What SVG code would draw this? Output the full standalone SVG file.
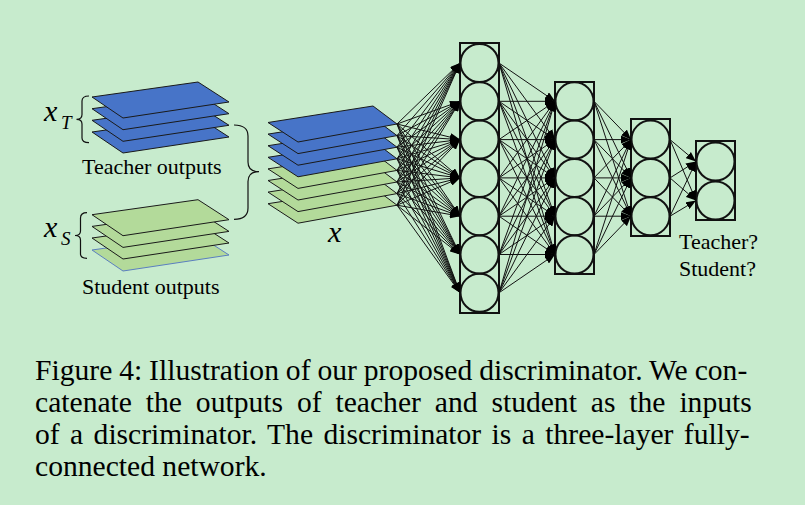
<svg xmlns="http://www.w3.org/2000/svg" xmlns:xlink="http://www.w3.org/1999/xlink" width="805" height="505" viewBox="0 0 805 505">
<style>
.bg{fill:#c7ebcd}
.blue{fill:#4774c8;stroke:#1a1a1a;stroke-width:1}
.green{fill:#b3da9a;stroke:#1a1a1a;stroke-width:1}
.greenlast{fill:#b3da9a;stroke:#5b7fc0;stroke-width:1}
.box{fill:none;stroke:#111;stroke-width:2}
.nd{fill:none;stroke:#111;stroke-width:2}
.c{stroke:#111;stroke-width:1;marker-end:url(#ah)}
.br{fill:none;stroke:#111;stroke-width:1.2}
.lbl{font-family:"Liberation Serif","Times New Roman",serif;font-size:22px;fill:#000}
.mx{font-family:"Liberation Serif","Times New Roman",serif;font-style:italic;fill:#000}
.cap{font-family:"Liberation Serif","Times New Roman",serif;font-size:29.6px;fill:#000}
</style>
<defs>
<marker id="ah" viewBox="0 0 10 8" refX="10" refY="4" markerWidth="10" markerHeight="8" markerUnits="userSpaceOnUse" orient="auto"><path d="M0,0 L10,4 L0,8 z" fill="#000"/></marker>
<polygon id="pl" points="92,97 198,82 229,102 123,118"/>
<polygon id="pm" points="268,122.5 373,106 397,124 298,142"/>
</defs>
<rect class="bg" x="0" y="0" width="805" height="505"/>

<g id="teacher-stack">
<use xlink:href="#pl" class="blue" y="35"/>
<use xlink:href="#pl" class="blue" y="23.3"/>
<use xlink:href="#pl" class="blue" y="11.7"/>
<use xlink:href="#pl" class="blue" y="0"/>
</g>
<g id="student-stack">
<use xlink:href="#pl" class="greenlast" y="153"/>
<use xlink:href="#pl" class="green" y="141"/>
<use xlink:href="#pl" class="green" y="129.4"/>
<use xlink:href="#pl" class="green" y="117.7"/>
</g>
<g id="braces">
<path class="br" d="M89,96 C84,96 82,97.5 82,101 L82,114.5 C82,117.5 80,119.3 76.5,119.3 C80,119.3 82,121 82,124 L82,138 C82,141 84,142.7 89,142.7"/>
<path class="br" d="M87,212.7 C82,212.7 80.5,214.5 80.5,218 L80.5,231 C80.5,234 79,235.5 75,235.5 C79,235.5 80.5,237 80.5,240 L80.5,254 C80.5,257 82,258.3 87,258.3"/>
<path class="br" d="M234,125 C243,125 248,128 248,136 L248,162 C248,168.5 252,171.7 259,171.7 C252,171.7 248,175 248,181.5 L248,208 C248,216 243,219.3 234,219.3"/>
</g>
<g id="labels">
<text class="mx" x="44" y="121" font-size="30">x</text>
<text class="mx" x="61" y="129" font-size="19">T</text>
<text class="mx" x="44" y="237" font-size="30">x</text>
<text class="mx" x="61" y="245" font-size="19">S</text>
<text class="lbl" x="82" y="174">Teacher outputs</text>
<text class="lbl" x="82" y="294">Student outputs</text>
<text class="mx" x="328" y="242" font-size="30">x</text>
<text class="lbl" x="679" y="249">Teacher?</text>
<text class="lbl" x="679" y="276">Student?</text>
</g>
<g id="input-stack">
<use xlink:href="#pm" class="green" y="81.2"/>
<use xlink:href="#pm" class="green" y="69.6"/>
<use xlink:href="#pm" class="green" y="58"/>
<use xlink:href="#pm" class="green" y="46.4"/>
<use xlink:href="#pm" class="blue" y="34.8"/>
<use xlink:href="#pm" class="blue" y="23.2"/>
<use xlink:href="#pm" class="blue" y="11.6"/>
<use xlink:href="#pm" class="blue" y="0"/>
</g>
<g id="layer1">
<rect class="box" x="460" y="43" width="39" height="270"/>
<circle class="nd" cx="479.5" cy="63" r="19"/>
<circle class="nd" cx="479.5" cy="101.3" r="19"/>
<circle class="nd" cx="479.5" cy="139.6" r="19"/>
<circle class="nd" cx="479.5" cy="177.9" r="19"/>
<circle class="nd" cx="479.5" cy="216.2" r="19"/>
<circle class="nd" cx="479.5" cy="254.5" r="19"/>
<circle class="nd" cx="479.5" cy="292.8" r="19"/>
</g>
<g id="layer2">
<rect class="box" x="555" y="82" width="39" height="192"/>
<circle class="nd" cx="574.5" cy="101.3" r="19"/>
<circle class="nd" cx="574.5" cy="139.6" r="19"/>
<circle class="nd" cx="574.5" cy="177.9" r="19"/>
<circle class="nd" cx="574.5" cy="216.2" r="19"/>
<circle class="nd" cx="574.5" cy="254.5" r="19"/>
</g>
<g id="layer3">
<rect class="box" x="631" y="119" width="39" height="117"/>
<circle class="nd" cx="650.5" cy="139.6" r="19"/>
<circle class="nd" cx="650.5" cy="177.9" r="19"/>
<circle class="nd" cx="650.5" cy="216.2" r="19"/>
</g>
<g id="layer4">
<rect class="box" x="696" y="141" width="39" height="79"/>
<circle class="nd" cx="715.5" cy="161.5" r="19"/>
<circle class="nd" cx="715.5" cy="200.5" r="19"/>
</g>
<g id="connectors">
<line class="c" x1="397" y1="124" x2="460" y2="63"/><line class="c" x1="397" y1="124" x2="460" y2="101.3"/><line class="c" x1="397" y1="124" x2="460" y2="139.6"/><line class="c" x1="397" y1="124" x2="460" y2="177.9"/><line class="c" x1="397" y1="124" x2="460" y2="216.2"/><line class="c" x1="397" y1="124" x2="460" y2="254.5"/><line class="c" x1="397" y1="124" x2="460" y2="292.8"/>
<line class="c" x1="397" y1="135.6" x2="460" y2="63"/><line class="c" x1="397" y1="135.6" x2="460" y2="101.3"/><line class="c" x1="397" y1="135.6" x2="460" y2="139.6"/><line class="c" x1="397" y1="135.6" x2="460" y2="177.9"/><line class="c" x1="397" y1="135.6" x2="460" y2="216.2"/><line class="c" x1="397" y1="135.6" x2="460" y2="254.5"/><line class="c" x1="397" y1="135.6" x2="460" y2="292.8"/>
<line class="c" x1="397" y1="147.2" x2="460" y2="63"/><line class="c" x1="397" y1="147.2" x2="460" y2="101.3"/><line class="c" x1="397" y1="147.2" x2="460" y2="139.6"/><line class="c" x1="397" y1="147.2" x2="460" y2="177.9"/><line class="c" x1="397" y1="147.2" x2="460" y2="216.2"/><line class="c" x1="397" y1="147.2" x2="460" y2="254.5"/><line class="c" x1="397" y1="147.2" x2="460" y2="292.8"/>
<line class="c" x1="397" y1="158.8" x2="460" y2="63"/><line class="c" x1="397" y1="158.8" x2="460" y2="101.3"/><line class="c" x1="397" y1="158.8" x2="460" y2="139.6"/><line class="c" x1="397" y1="158.8" x2="460" y2="177.9"/><line class="c" x1="397" y1="158.8" x2="460" y2="216.2"/><line class="c" x1="397" y1="158.8" x2="460" y2="254.5"/><line class="c" x1="397" y1="158.8" x2="460" y2="292.8"/>
<line class="c" x1="397" y1="170.4" x2="460" y2="63"/><line class="c" x1="397" y1="170.4" x2="460" y2="101.3"/><line class="c" x1="397" y1="170.4" x2="460" y2="139.6"/><line class="c" x1="397" y1="170.4" x2="460" y2="177.9"/><line class="c" x1="397" y1="170.4" x2="460" y2="216.2"/><line class="c" x1="397" y1="170.4" x2="460" y2="254.5"/><line class="c" x1="397" y1="170.4" x2="460" y2="292.8"/>
<line class="c" x1="397" y1="182" x2="460" y2="63"/><line class="c" x1="397" y1="182" x2="460" y2="101.3"/><line class="c" x1="397" y1="182" x2="460" y2="139.6"/><line class="c" x1="397" y1="182" x2="460" y2="177.9"/><line class="c" x1="397" y1="182" x2="460" y2="216.2"/><line class="c" x1="397" y1="182" x2="460" y2="254.5"/><line class="c" x1="397" y1="182" x2="460" y2="292.8"/>
<line class="c" x1="397" y1="193.6" x2="460" y2="63"/><line class="c" x1="397" y1="193.6" x2="460" y2="101.3"/><line class="c" x1="397" y1="193.6" x2="460" y2="139.6"/><line class="c" x1="397" y1="193.6" x2="460" y2="177.9"/><line class="c" x1="397" y1="193.6" x2="460" y2="216.2"/><line class="c" x1="397" y1="193.6" x2="460" y2="254.5"/><line class="c" x1="397" y1="193.6" x2="460" y2="292.8"/>
<line class="c" x1="397" y1="205.2" x2="460" y2="63"/><line class="c" x1="397" y1="205.2" x2="460" y2="101.3"/><line class="c" x1="397" y1="205.2" x2="460" y2="139.6"/><line class="c" x1="397" y1="205.2" x2="460" y2="177.9"/><line class="c" x1="397" y1="205.2" x2="460" y2="216.2"/><line class="c" x1="397" y1="205.2" x2="460" y2="254.5"/><line class="c" x1="397" y1="205.2" x2="460" y2="292.8"/>

<line class="c" x1="499" y1="63" x2="555" y2="101.3"/><line class="c" x1="499" y1="63" x2="555" y2="139.6"/><line class="c" x1="499" y1="63" x2="555" y2="177.9"/><line class="c" x1="499" y1="63" x2="555" y2="216.2"/><line class="c" x1="499" y1="63" x2="555" y2="254.5"/>
<line class="c" x1="499" y1="101.3" x2="555" y2="101.3"/><line class="c" x1="499" y1="101.3" x2="555" y2="139.6"/><line class="c" x1="499" y1="101.3" x2="555" y2="177.9"/><line class="c" x1="499" y1="101.3" x2="555" y2="216.2"/><line class="c" x1="499" y1="101.3" x2="555" y2="254.5"/>
<line class="c" x1="499" y1="139.6" x2="555" y2="101.3"/><line class="c" x1="499" y1="139.6" x2="555" y2="139.6"/><line class="c" x1="499" y1="139.6" x2="555" y2="177.9"/><line class="c" x1="499" y1="139.6" x2="555" y2="216.2"/><line class="c" x1="499" y1="139.6" x2="555" y2="254.5"/>
<line class="c" x1="499" y1="177.9" x2="555" y2="101.3"/><line class="c" x1="499" y1="177.9" x2="555" y2="139.6"/><line class="c" x1="499" y1="177.9" x2="555" y2="177.9"/><line class="c" x1="499" y1="177.9" x2="555" y2="216.2"/><line class="c" x1="499" y1="177.9" x2="555" y2="254.5"/>
<line class="c" x1="499" y1="216.2" x2="555" y2="101.3"/><line class="c" x1="499" y1="216.2" x2="555" y2="139.6"/><line class="c" x1="499" y1="216.2" x2="555" y2="177.9"/><line class="c" x1="499" y1="216.2" x2="555" y2="216.2"/><line class="c" x1="499" y1="216.2" x2="555" y2="254.5"/>
<line class="c" x1="499" y1="254.5" x2="555" y2="101.3"/><line class="c" x1="499" y1="254.5" x2="555" y2="139.6"/><line class="c" x1="499" y1="254.5" x2="555" y2="177.9"/><line class="c" x1="499" y1="254.5" x2="555" y2="216.2"/><line class="c" x1="499" y1="254.5" x2="555" y2="254.5"/>
<line class="c" x1="499" y1="292.8" x2="555" y2="101.3"/><line class="c" x1="499" y1="292.8" x2="555" y2="139.6"/><line class="c" x1="499" y1="292.8" x2="555" y2="177.9"/><line class="c" x1="499" y1="292.8" x2="555" y2="216.2"/><line class="c" x1="499" y1="292.8" x2="555" y2="254.5"/>

<line class="c" x1="594" y1="101.3" x2="631" y2="139.6"/><line class="c" x1="594" y1="101.3" x2="631" y2="177.9"/><line class="c" x1="594" y1="101.3" x2="631" y2="216.2"/>
<line class="c" x1="594" y1="139.6" x2="631" y2="139.6"/><line class="c" x1="594" y1="139.6" x2="631" y2="177.9"/><line class="c" x1="594" y1="139.6" x2="631" y2="216.2"/>
<line class="c" x1="594" y1="177.9" x2="631" y2="139.6"/><line class="c" x1="594" y1="177.9" x2="631" y2="177.9"/><line class="c" x1="594" y1="177.9" x2="631" y2="216.2"/>
<line class="c" x1="594" y1="216.2" x2="631" y2="139.6"/><line class="c" x1="594" y1="216.2" x2="631" y2="177.9"/><line class="c" x1="594" y1="216.2" x2="631" y2="216.2"/>
<line class="c" x1="594" y1="254.5" x2="631" y2="139.6"/><line class="c" x1="594" y1="254.5" x2="631" y2="177.9"/><line class="c" x1="594" y1="254.5" x2="631" y2="216.2"/>

<line class="c" x1="670" y1="139.6" x2="696" y2="161.5"/><line class="c" x1="670" y1="139.6" x2="696" y2="200.5"/>
<line class="c" x1="670" y1="177.9" x2="696" y2="161.5"/><line class="c" x1="670" y1="177.9" x2="696" y2="200.5"/>
<line class="c" x1="670" y1="216.2" x2="696" y2="161.5"/><line class="c" x1="670" y1="216.2" x2="696" y2="200.5"/>
</g>
<g id="caption">
<text class="cap" x="35" y="380" word-spacing="-0.5">Figure 4: Illustration of our proposed discriminator. We con-</text>
<text class="cap" x="35" y="412" word-spacing="6.5">catenate the outputs of teacher and student as the inputs</text>
<text class="cap" x="35" y="444" word-spacing="3">of a discriminator. The discriminator is a three-layer fully-</text>
<text class="cap" x="35" y="476">connected network.</text>
</g>
</svg>
